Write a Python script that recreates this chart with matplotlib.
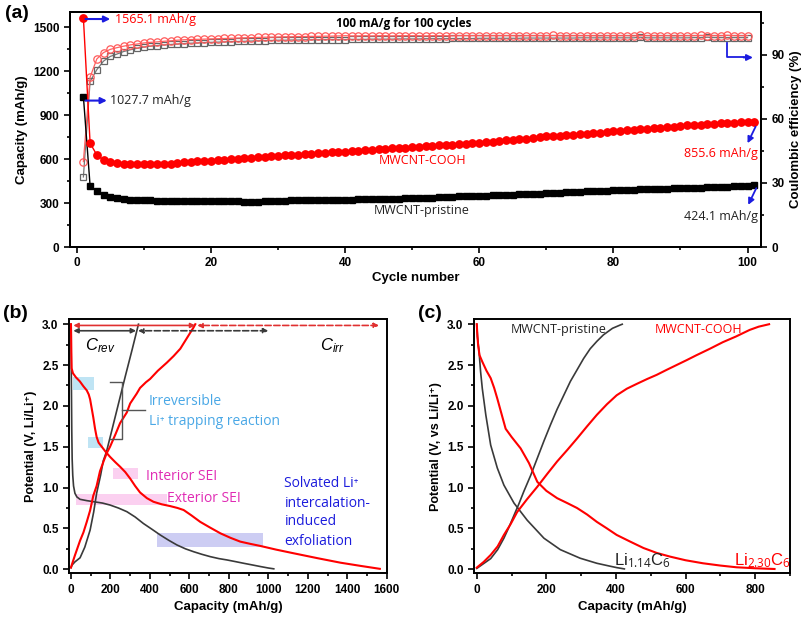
import matplotlib
matplotlib.use('Agg')
from matplotlib import pyplot as plt
from matplotlib.patches import Rectangle
from matplotlib.ticker import MultipleLocator

plt.rcParams['font.family'] = ['Liberation Sans', 'DejaVu Sans']
plt.rcParams['mathtext.fontset'] = 'custom'
plt.rcParams['mathtext.rm'] = 'Open Sans'
plt.rcParams['mathtext.it'] = 'Liberation Sans:italic'

ANNO = ['Open Sans', 'DejaVu Sans']
RED = '#ff0000'
DARK = '#3a3a3a'
BLUE = '#1c1ce0'

# ---- (a) cycling data ----
cycles = list(range(1, 102))
cooh_cap = [1565.1, 709, 629, 595, 582, 575, 570, 568, 567, 566,
            566, 566, 567, 569, 575, 578, 581, 584, 587, 590,
            593, 597, 600, 603, 607, 610, 613, 616, 619, 622,
            625, 628, 631, 634, 637, 640, 643, 646, 649, 652,
            655, 658, 661, 664, 667, 670, 673, 676, 679, 682,
            685, 688, 691, 694, 697, 700, 703, 706, 709, 712,
            716, 720, 724, 728, 732, 737, 741, 745, 750, 755,
            758, 761, 765, 768, 772, 775, 779, 782, 786, 789,
            793, 797, 800, 804, 808, 811, 815, 819, 823, 827,
            830, 833, 836, 839, 842, 845, 847, 850, 852, 854, 855.6]
pristine_cap = [1027.7, 418, 380, 357, 341, 334, 327, 324, 322, 320,
                318, 317, 316, 315, 315, 314, 314, 313, 313, 312,
                312, 311, 311, 311, 310, 310, 310, 312, 314, 316,
                317, 318, 318, 319, 320, 320, 321, 322, 322, 323,
                324, 325, 326, 327, 327, 328, 329, 330, 332, 333,
                335, 336, 337, 339, 341, 343, 345, 346, 348, 350,
                351, 353, 354, 356, 357, 359, 361, 363, 365, 368,
                370, 372, 374, 376, 378, 380, 381, 383, 384, 386,
                388, 389, 391, 393, 395, 396, 397, 399, 400, 402,
                403, 404, 406, 407, 409, 410, 412, 414, 416, 420, 424.1]
ce_cycles = list(range(1, 101))
cooh_ce = [40.0, 79.5, 88.0, 91.0, 92.5, 93.3, 94.0, 94.6, 95.0, 95.5,
           95.8, 96.0, 96.3, 96.5, 96.8, 97.0, 97.1, 97.2, 97.3, 97.4,
           97.5, 97.6, 97.7, 97.8, 97.9, 98.0, 98.1, 98.2, 98.2, 98.3,
           98.4, 98.4, 98.5, 98.5, 98.6, 98.6, 98.7, 98.7, 98.8, 98.9,
           98.8, 98.8, 98.9, 98.8, 98.9, 98.9, 98.8, 98.9, 98.9, 98.9,
           98.9, 98.8, 98.9, 98.9, 98.9, 98.8, 98.9, 98.9, 98.9, 98.9,
           98.8, 98.9, 98.9, 98.9, 98.9, 98.8, 98.9, 98.9, 98.9, 98.9,
           99.0, 98.9, 98.8, 98.9, 98.9, 98.9, 98.9, 98.8, 98.9, 98.9,
           98.9, 98.9, 98.8, 99.0, 98.9, 98.9, 98.9, 98.9, 98.8, 98.9,
           98.9, 98.9, 99.0, 98.9, 98.9, 98.9, 99.1, 98.9, 98.9, 98.9]
pristine_ce = [32.8, 77.5, 83.0, 87.0, 89.2, 90.3, 91.5, 92.3, 93.0, 93.6,
               94.0, 94.3, 94.6, 94.8, 95.0, 95.2, 95.4, 95.5, 95.7, 95.8,
               95.9, 96.0, 96.1, 96.2, 96.3, 96.4, 96.5, 96.6, 96.7, 96.8,
               96.8, 96.9, 96.9, 97.0, 97.0, 97.0, 97.1, 97.1, 97.1, 97.1,
               97.2, 97.2, 97.2, 97.3, 97.3, 97.3, 97.3, 97.4, 97.4, 97.4,
               97.4, 97.5, 97.5, 97.5, 97.5, 97.6, 97.6, 97.6, 97.6, 97.7,
               97.7, 97.7, 97.7, 97.7, 97.7, 97.7, 97.8, 97.8, 97.8, 97.8,
               97.8, 97.8, 97.8, 97.8, 97.9, 97.9, 97.9, 97.9, 97.9, 97.9,
               97.9, 97.9, 97.9, 98.2, 97.9, 97.9, 97.9, 97.9, 97.9, 97.9,
               97.9, 98.0, 98.0, 98.2, 98.0, 98.0, 98.0, 98.0, 98.0, 98.0]

# ---- (b) first cycle voltage profiles ----
b_pri_dis_cap = [0, 2, 4, 6, 9, 13, 20, 30, 46, 80, 120, 160, 198, 240, 283, 325, 367,
                 410, 452, 495, 537, 580, 621, 663, 706, 750, 790, 830, 875, 920, 960, 1000, 1027.7]
b_pri_dis_v = [3.0, 2.3, 1.7, 1.35, 1.15, 1.02, 0.93, 0.885, 0.856, 0.84, 0.825, 0.81, 0.786, 0.75,
               0.705, 0.64, 0.56, 0.49, 0.42, 0.355, 0.297, 0.25, 0.215, 0.183, 0.154, 0.13, 0.114,
               0.095, 0.073, 0.052, 0.033, 0.015, 0.005]
b_pri_chg_cap = [0, 5, 20, 46, 70, 97, 115, 130, 150, 164, 180, 207, 240, 275, 310, 342]
b_pri_chg_v = [0.02, 0.05, 0.09, 0.14, 0.27, 0.48, 0.7, 0.93, 1.15, 1.33, 1.44, 1.70, 2.02, 2.36, 2.69, 3.0]
b_cooh_dis_cap = [0, 1, 2, 3.4, 10, 25, 45, 63, 80, 90, 97, 105, 113, 122, 130, 140, 156, 175, 198,
                  225, 249, 275, 300, 325, 350, 385, 418, 460, 503, 540, 571, 610, 655, 705, 757,
                  808, 858, 910, 960, 1040, 1129, 1250, 1366, 1470, 1565.1]
b_cooh_dis_v = [3.0, 2.85, 2.65, 2.46, 2.40, 2.35, 2.30, 2.24, 2.19, 2.14, 2.08, 1.97, 1.86, 1.72, 1.62,
                1.55, 1.50, 1.44, 1.376, 1.31, 1.255, 1.19, 1.11, 1.02, 0.94, 0.87, 0.826, 0.795,
                0.773, 0.75, 0.725, 0.66, 0.58, 0.51, 0.44, 0.385, 0.338, 0.31, 0.285, 0.24, 0.195,
                0.135, 0.08, 0.04, 0.005]
b_cooh_chg_cap = [0, 5, 20, 46, 63, 80, 97, 113, 130, 147, 165, 181, 198, 225, 249, 283, 300, 333, 350,
                  380, 401, 440, 486, 520, 554, 590, 621, 630]
b_cooh_chg_v = [0.02, 0.06, 0.17, 0.35, 0.45, 0.58, 0.72, 0.9, 1.02, 1.2, 1.32, 1.42, 1.5, 1.65, 1.79,
                1.92, 2.03, 2.15, 2.22, 2.29, 2.33, 2.43, 2.53, 2.61, 2.70, 2.84, 2.96, 3.0]

# ---- (c) 100th cycle voltage profiles ----
c_pri_dis_cap = [0, 2, 6.7, 11, 16, 26, 40, 59, 78, 107, 145, 193, 240, 297, 345, 380, 402, 424.1]
c_pri_dis_v = [3.0, 2.85, 2.66, 2.42, 2.21, 1.89, 1.52, 1.24, 1.03, 0.81, 0.60, 0.38, 0.24, 0.135,
               0.073, 0.04, 0.02, 0.004]
c_pri_chg_cap = [0, 20, 40, 60, 78, 92, 107, 121, 135, 155, 174, 193, 212, 231, 250, 269, 288, 307,
                 326, 345, 364, 390, 412, 418]
c_pri_chg_v = [0.01, 0.07, 0.13, 0.24, 0.38, 0.51, 0.66, 0.80, 0.95, 1.15, 1.36, 1.57, 1.77, 1.96,
               2.13, 2.30, 2.44, 2.58, 2.70, 2.79, 2.87, 2.95, 2.99, 3.0]
c_cooh_dis_cap = [0, 2, 4, 8, 16, 28, 40, 50, 59, 70, 83, 100, 126, 150, 174, 200, 231, 260, 288, 317,
                  345, 374, 402, 440, 479, 517, 555, 600, 650, 700, 746, 800, 855.6]
c_cooh_dis_v = [3.0, 2.85, 2.74, 2.62, 2.54, 2.43, 2.34, 2.22, 2.09, 1.92, 1.72, 1.62, 1.48, 1.30,
                1.07, 0.96, 0.87, 0.81, 0.75, 0.67, 0.58, 0.50, 0.42, 0.34, 0.26, 0.20, 0.155, 0.11,
                0.073, 0.045, 0.024, 0.012, 0.003]
c_cooh_chg_cap = [0, 20, 40, 60, 78, 97, 116, 145, 174, 203, 231, 260, 288, 317, 345, 374, 402, 431,
                  460, 490, 517, 545, 574, 603, 631, 670, 707, 745, 784, 810, 840]
c_cooh_chg_v = [0.02, 0.09, 0.175, 0.28, 0.42, 0.55, 0.70, 0.86, 1.01, 1.17, 1.32, 1.46, 1.60, 1.75,
                1.89, 2.02, 2.13, 2.21, 2.27, 2.33, 2.38, 2.44, 2.50, 2.56, 2.62, 2.70, 2.78, 2.85,
                2.93, 2.97, 3.0]


def style_axes(ax, right=False):
    for s in ax.spines.values():
        s.set_linewidth(1.4)
    ax.tick_params(which='both', direction='out', width=1.2, labelsize=8.5,
                   top=False, right=right, left=not right)
    ax.tick_params(which='major', length=4)
    ax.tick_params(which='minor', length=2.5)
    for lb in ax.get_xticklabels() + ax.get_yticklabels():
        lb.set_fontweight('bold')


def blue_arrow(ax, start, end, lw=1.5):
    ax.annotate('', xy=end, xytext=start,
                arrowprops=dict(arrowstyle='-|>', color=BLUE, lw=lw, mutation_scale=9,
                                shrinkA=0, shrinkB=0))


fig = plt.figure(figsize=(8.08, 6.18), dpi=100)

# ================= (a) =================
ax = fig.add_axes([0.0866, 0.6003, 0.8552, 0.3803])
ax2 = ax.twinx()
ax2.plot(ce_cycles, pristine_ce, '-s', color='#777777', mfc='none', mec='#666666', ms=4.8,
         mew=0.9, lw=0.9)
ax2.plot(ce_cycles, cooh_ce, '-o', color='#ff6060', mfc='none', mec='#ff5a5a', ms=5.3,
         mew=0.9, lw=0.9)
ax2.set_ylim(0, 110)
ax2.yaxis.set_major_locator(MultipleLocator(30))
ax2.yaxis.set_minor_locator(MultipleLocator(15))
ax2.set_ylabel('Coulombic efficiency (%)', fontsize=9.5, fontweight='bold')

ax.plot(cycles, pristine_cap, '-s', color='black', ms=4.8, lw=1.0, zorder=3)
ax.plot(cycles, cooh_cap, '-o', color=RED, ms=5.3, lw=1.0, zorder=3)
ax.set_zorder(ax2.get_zorder() + 1)
ax.patch.set_visible(False)
ax.set_xlim(-1, 102)
ax.set_ylim(0, 1605)
ax.xaxis.set_major_locator(MultipleLocator(20))
ax.xaxis.set_minor_locator(MultipleLocator(10))
ax.yaxis.set_major_locator(MultipleLocator(300))
ax.yaxis.set_minor_locator(MultipleLocator(150))
ax.set_xlabel('Cycle number', fontsize=9.5, fontweight='bold', labelpad=2)
ax.set_ylabel('Capacity (mAh/g)', fontsize=9.5, fontweight='bold')
style_axes(ax)
style_axes(ax2, right=True)

blue_arrow(ax, (1.3, 1557), (5.0, 1557))
ax.text(5.7, 1557, '1565.1 mAh/g', color=RED, fontsize=9, family=ANNO, va='center')
blue_arrow(ax, (1.3, 1000), (4.5, 1000))
ax.text(5.0, 1000, '1027.7 mAh/g', color='#222222', fontsize=9, family=ANNO, va='center')
ax.text(48.8, 1525, '100 mA/g for 100 cycles', fontsize=8.5, fontweight='bold', family=ANNO,
        ha='center', va='center')
ax.text(51.5, 588, 'MWCNT-COOH', color=RED, fontsize=9, family=ANNO, ha='center', va='center')
ax.text(51.5, 248, 'MWCNT-pristine', color='#222222', fontsize=9, family=ANNO, ha='center',
        va='center')
blue_arrow(ax, (101.2, 822), (100.0, 709), lw=1.3)
ax.text(101.6, 641, '855.6 mAh/g', color=RED, fontsize=9, family=ANNO, ha='right', va='center')
blue_arrow(ax, (101.3, 402), (100.1, 288), lw=1.3)
ax.text(101.6, 209, '424.1 mAh/g', color='#222222', fontsize=9, family=ANNO, ha='right',
        va='center')
ax2.plot([97.0, 97.0, 99.5], [95.7, 88.7, 88.7], color=BLUE, lw=1.3)
blue_arrow(ax2, (99.4, 88.7), (100.8, 88.7), lw=1.3)

fig.text(0.006, 0.978, '(a)', fontsize=14, fontweight='bold', va='center')

# ================= (b) =================
bx = fig.add_axes([0.0854, 0.0723, 0.3932, 0.411])
bx.add_patch(Rectangle((12, 2.19), 103, 0.16, color='#bfe4f4', lw=0))
bx.add_patch(Rectangle((88, 1.48), 76, 0.14, color='#bfe4f4', lw=0))
bx.add_patch(Rectangle((215, 1.10), 127, 0.135, color='#fbd0f0', lw=0))
bx.add_patch(Rectangle((25, 0.785), 461, 0.135, color='#fbd0f0', lw=0))
bx.add_patch(Rectangle((438, 0.276), 534, 0.164, color='#cdcdf3', lw=0))

bx.plot(b_pri_dis_cap, b_pri_dis_v, color=DARK, lw=1.2)
bx.plot(b_pri_chg_cap, b_pri_chg_v, color=DARK, lw=1.2)
bx.plot(b_cooh_dis_cap, b_cooh_dis_v, color=RED, lw=1.5)
bx.plot(b_cooh_chg_cap, b_cooh_chg_v, color=RED, lw=1.5)

arr = dict(arrowstyle='<|-|>', mutation_scale=7, shrinkA=0, shrinkB=0)
bx.annotate('', xy=(12, 2.985), xytext=(630, 2.985), arrowprops=dict(arr, color='#e03030', lw=1.2))
bx.annotate('', xy=(640, 2.985), xytext=(1561, 2.985),
            arrowprops=dict(arr, color='#e03030', lw=1.2, linestyle='--'))
bx.annotate('', xy=(12, 2.92), xytext=(330, 2.92), arrowprops=dict(arr, color=DARK, lw=1.2))
bx.annotate('', xy=(340, 2.92), xytext=(1000, 2.92),
            arrowprops=dict(arr, color=DARK, lw=1.2, linestyle='--'))
bx.text(72, 2.74, r'$C_{rev}$', fontsize=12, va='center')
bx.text(1262, 2.74, r'$C_{irr}$', fontsize=12, va='center')

bx.plot([198, 257, 257, 198], [2.29, 2.29, 1.60, 1.60], color='#555555', lw=1.0)
bx.plot([257, 376], [1.95, 1.95], color='#555555', lw=1.0)

bx.text(393, 2.05, 'Irreversible', color='#4aa8e6', fontsize=10, family=ANNO, va='center')
bx.text(393, 1.81, 'Li\u207a trapping reaction', color='#4aa8e6', fontsize=10, family=ANNO,
        va='center')
bx.text(381, 1.13, 'Interior SEI', color='#e02cb4', fontsize=10, family=ANNO, va='center')
bx.text(489, 0.87, 'Exterior SEI', color='#e02cb4', fontsize=10, family=ANNO, va='center')
for txt, yy in zip(['Solvated Li\u207a', 'intercalation-', 'induced', 'exfoliation'],
                   [1.05, 0.81, 0.58, 0.34]):
    bx.text(1082, yy, txt, color='#1c1cdc', fontsize=10, family=ANNO, va='center')

bx.set_xlim(-10, 1600)
bx.set_ylim(-0.05, 3.06)
bx.xaxis.set_major_locator(MultipleLocator(200))
bx.xaxis.set_minor_locator(MultipleLocator(100))
bx.yaxis.set_major_locator(MultipleLocator(0.5))
bx.yaxis.set_minor_locator(MultipleLocator(0.25))
bx.set_xlabel('Capacity (mAh/g)', fontsize=9.5, fontweight='bold')
bx.set_ylabel('Potential (V, Li/Li\u207a)', fontsize=9, fontweight='bold')
style_axes(bx)
fig.text(0.004, 0.492, '(b)', fontsize=14, fontweight='bold', va='center')

# ================= (c) =================
cx = fig.add_axes([0.5866, 0.0723, 0.3911, 0.411])
cx.plot(c_pri_dis_cap, c_pri_dis_v, color=DARK, lw=1.2)
cx.plot(c_pri_chg_cap, c_pri_chg_v, color=DARK, lw=1.2)
cx.plot(c_cooh_dis_cap, c_cooh_dis_v, color=RED, lw=1.5)
cx.plot(c_cooh_chg_cap, c_cooh_chg_v, color=RED, lw=1.5)
cx.text(98, 2.93, 'MWCNT-pristine', color='#222222', fontsize=9, family=ANNO, va='center')
cx.text(511, 2.93, 'MWCNT-COOH', color=RED, fontsize=9, family=ANNO, va='center')
cx.text(394, 0.11, r'Li$_{1.14}$C$_6$', color='#222222', fontsize=12, va='center')
cx.text(738, 0.11, r'Li$_{2.30}$C$_6$', color=RED, fontsize=12, va='center')
cx.set_xlim(-8, 900)
cx.set_ylim(-0.05, 3.06)
cx.xaxis.set_major_locator(MultipleLocator(200))
cx.xaxis.set_minor_locator(MultipleLocator(100))
cx.yaxis.set_major_locator(MultipleLocator(0.5))
cx.yaxis.set_minor_locator(MultipleLocator(0.25))
cx.set_xlabel('Capacity (mAh/g)', fontsize=9.5, fontweight='bold')
cx.set_ylabel('Potential (V, vs Li/Li\u207a)', fontsize=9, fontweight='bold')
style_axes(cx)
fig.text(0.517, 0.492, '(c)', fontsize=14, fontweight='bold', va='center')

plt.savefig('out.png', dpi=100)
